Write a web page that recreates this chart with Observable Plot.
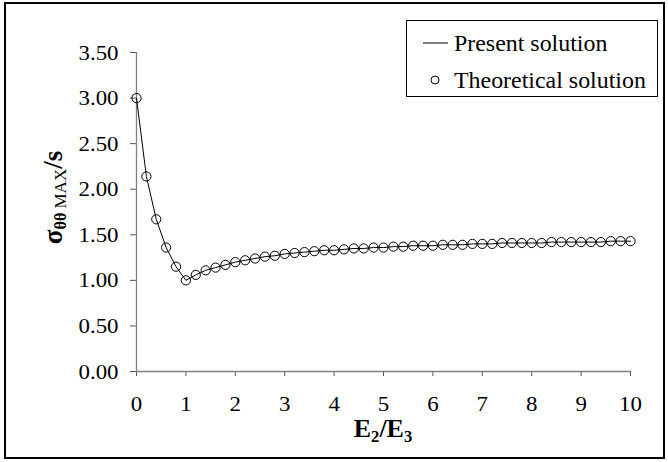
<!DOCTYPE html>
<html>
<head>
<meta charset="utf-8">
<script src="https://cdn.jsdelivr.net/npm/d3@7"></script>
<script src="https://cdn.jsdelivr.net/npm/@observablehq/plot@0.6"></script>
<style>
  html, body { margin: 0; padding: 0; background: #fff; }
  #wrap { position: relative; width: 668px; height: 462px; overflow: hidden; }
  #frame { position: absolute; left: 4px; top: 2px; width: 661px; height: 457px; border: 2px solid #000; box-sizing: border-box; pointer-events: none; }
  #wrap svg { position: absolute; left: 0; top: 0; }
</style>
</head>
<body>
<div id="wrap"><div id="frame"></div></div>
<script>
// E2/E3 ratio values
const ratio = [0, 0.2, 0.4, 0.6, 0.8, 1.0, 1.2, 1.4, 1.6, 1.8, 2.0, 2.2, 2.4, 2.6, 2.8, 3.0,
  3.2, 3.4, 3.6, 3.8, 4.0, 4.2, 4.4, 4.6, 4.8, 5.0, 5.2, 5.4, 5.6, 5.8, 6.0,
  6.2, 6.4, 6.6, 6.8, 7.0, 7.2, 7.4, 7.6, 7.8, 8.0, 8.2, 8.4, 8.6, 8.8, 9.0,
  9.2, 9.4, 9.6, 9.8, 10.0];
// Present solution (line)
const presentSolution = [3.00, 2.14, 1.67, 1.36, 1.15, 1.00, 1.06, 1.11, 1.14, 1.17, 1.20, 1.22, 1.24, 1.26, 1.27, 1.29,
  1.30, 1.31, 1.32, 1.33, 1.33, 1.34, 1.35, 1.35, 1.36, 1.36, 1.37, 1.37, 1.38, 1.38, 1.38,
  1.39, 1.39, 1.39, 1.40, 1.40, 1.40, 1.41, 1.41, 1.41, 1.41, 1.41, 1.42, 1.42, 1.42, 1.42,
  1.42, 1.42, 1.43, 1.43, 1.43];
// Theoretical solution (circles)
const theoreticalSolution = [3.00, 2.14, 1.67, 1.36, 1.15, 1.00, 1.06, 1.11, 1.14, 1.17, 1.20, 1.22, 1.24, 1.26, 1.27, 1.29,
  1.30, 1.31, 1.32, 1.33, 1.33, 1.34, 1.35, 1.35, 1.36, 1.36, 1.37, 1.37, 1.38, 1.38, 1.38,
  1.39, 1.39, 1.39, 1.40, 1.40, 1.40, 1.41, 1.41, 1.41, 1.41, 1.41, 1.42, 1.42, 1.42, 1.42,
  1.42, 1.42, 1.43, 1.43, 1.43];
const xTicks = [0, 1, 2, 3, 4, 5, 6, 7, 8, 9, 10];
const yTicks = [0, 0.5, 1.0, 1.5, 2.0, 2.5, 3.0, 3.5];
const legendLabels = ["Present solution", "Theoretical solution"];

const presentData = ratio.map((x, i) => ({x, y: presentSolution[i]}));
const theoData = ratio.map((x, i) => ({x, y: theoreticalSolution[i]}));

const FONT = "'Liberation Serif', 'Times New Roman', serif";
const SX = 1.04; // slight horizontal stretch seen in the reference text

const chart = Plot.plot({
  width: 668,
  height: 462,
  marginLeft: 136,
  marginRight: 38,
  marginTop: 52,
  marginBottom: 91,
  style: {fontFamily: FONT, fontSize: "22px", background: "transparent", color: "#000", overflow: "visible"},
  x: {domain: [0, 10]},
  y: {domain: [0, 3.5]},
  marks: [
    Plot.axisY({ticks: yTicks, tickFormat: d => d.toFixed(2), tickSize: 6, tickPadding: 12, label: null, stroke: "#555", fill: "#000"}),
    Plot.axisX({ticks: xTicks, tickFormat: d => String(d), tickSize: 5, tickPadding: 19, label: null, stroke: "#555", fill: "#000"}),
    Plot.ruleY([0], {stroke: "#808080", strokeWidth: 1.3}),
    Plot.ruleX([0], {stroke: "#808080", strokeWidth: 1.3}),
    Plot.line(presentData, {x: "x", y: "y", stroke: "#000", strokeWidth: 1}),
    Plot.dot(theoData, {x: "x", y: "y", r: 4.6, stroke: "#000", strokeWidth: 1, fill: "none"})
  ]
});

document.getElementById("wrap").appendChild(chart);
const svg = d3.select(chart);

// slight horizontal stretch of tick labels to match the reference
svg.selectAll("g[aria-label$='tick label'] text").each(function() {
  const t = d3.select(this);
  const tr = t.attr("transform") || "";
  t.attr("transform", tr + ` scale(${SX},1)`);
});

const xs = chart.scale("x"), ys = chart.scale("y");

// X-axis title E2/E3
const xt = svg.append("text")
  .attr("transform", `translate(${xs.apply(5)},437) scale(${SX},1)`)
  .attr("text-anchor", "middle")
  .attr("font-family", FONT)
  .attr("font-weight", "bold")
  .attr("font-size", 25)
  .attr("fill", "#000");
xt.append("tspan").text("E");
xt.append("tspan").attr("font-size", 16).attr("dy", 5).text("2");
xt.append("tspan").attr("dy", -5).text("/E");
xt.append("tspan").attr("font-size", 16).attr("dy", 5).text("3");

// Y-axis title σθθ MAX/s
const yt = svg.append("text")
  .attr("transform", `translate(62,${(ys.apply(0) + ys.apply(3.5)) / 2 - 14}) rotate(-90)`)
  .attr("text-anchor", "middle")
  .attr("font-family", FONT)
  .attr("font-weight", "bold")
  .attr("font-size", 27)
  .attr("fill", "#000");
yt.append("tspan").text("σ");
yt.append("tspan").attr("font-size", 16).attr("dy", 4).text("θθ");
yt.append("tspan").attr("font-size", 17).attr("font-weight", "normal").text(" MAX");
yt.append("tspan").attr("dy", -4).text("/s");

// Legend box
const lg = svg.append("g").attr("text-anchor", "start");
lg.append("rect").attr("x", 406.5).attr("y", 20.5).attr("width", 251).attr("height", 76)
  .attr("fill", "#fff").attr("stroke", "#000").attr("stroke-width", 1);
lg.append("line").attr("x1", 423).attr("x2", 448).attr("y1", 43).attr("y2", 43)
  .attr("stroke", "#000").attr("stroke-width", 1);
lg.append("circle").attr("cx", 435).attr("cy", 80).attr("r", 4)
  .attr("fill", "none").attr("stroke", "#000").attr("stroke-width", 1);
legendLabels.forEach((lab, i) => {
  lg.append("text")
    .attr("transform", `translate(454,${51 + i * 37}) scale(${SX},1)`)
    .attr("text-anchor", "start")
    .attr("font-family", FONT)
    .attr("font-size", 23)
    .attr("fill", "#000")
    .text(lab);
});
</script>
</body>
</html>
